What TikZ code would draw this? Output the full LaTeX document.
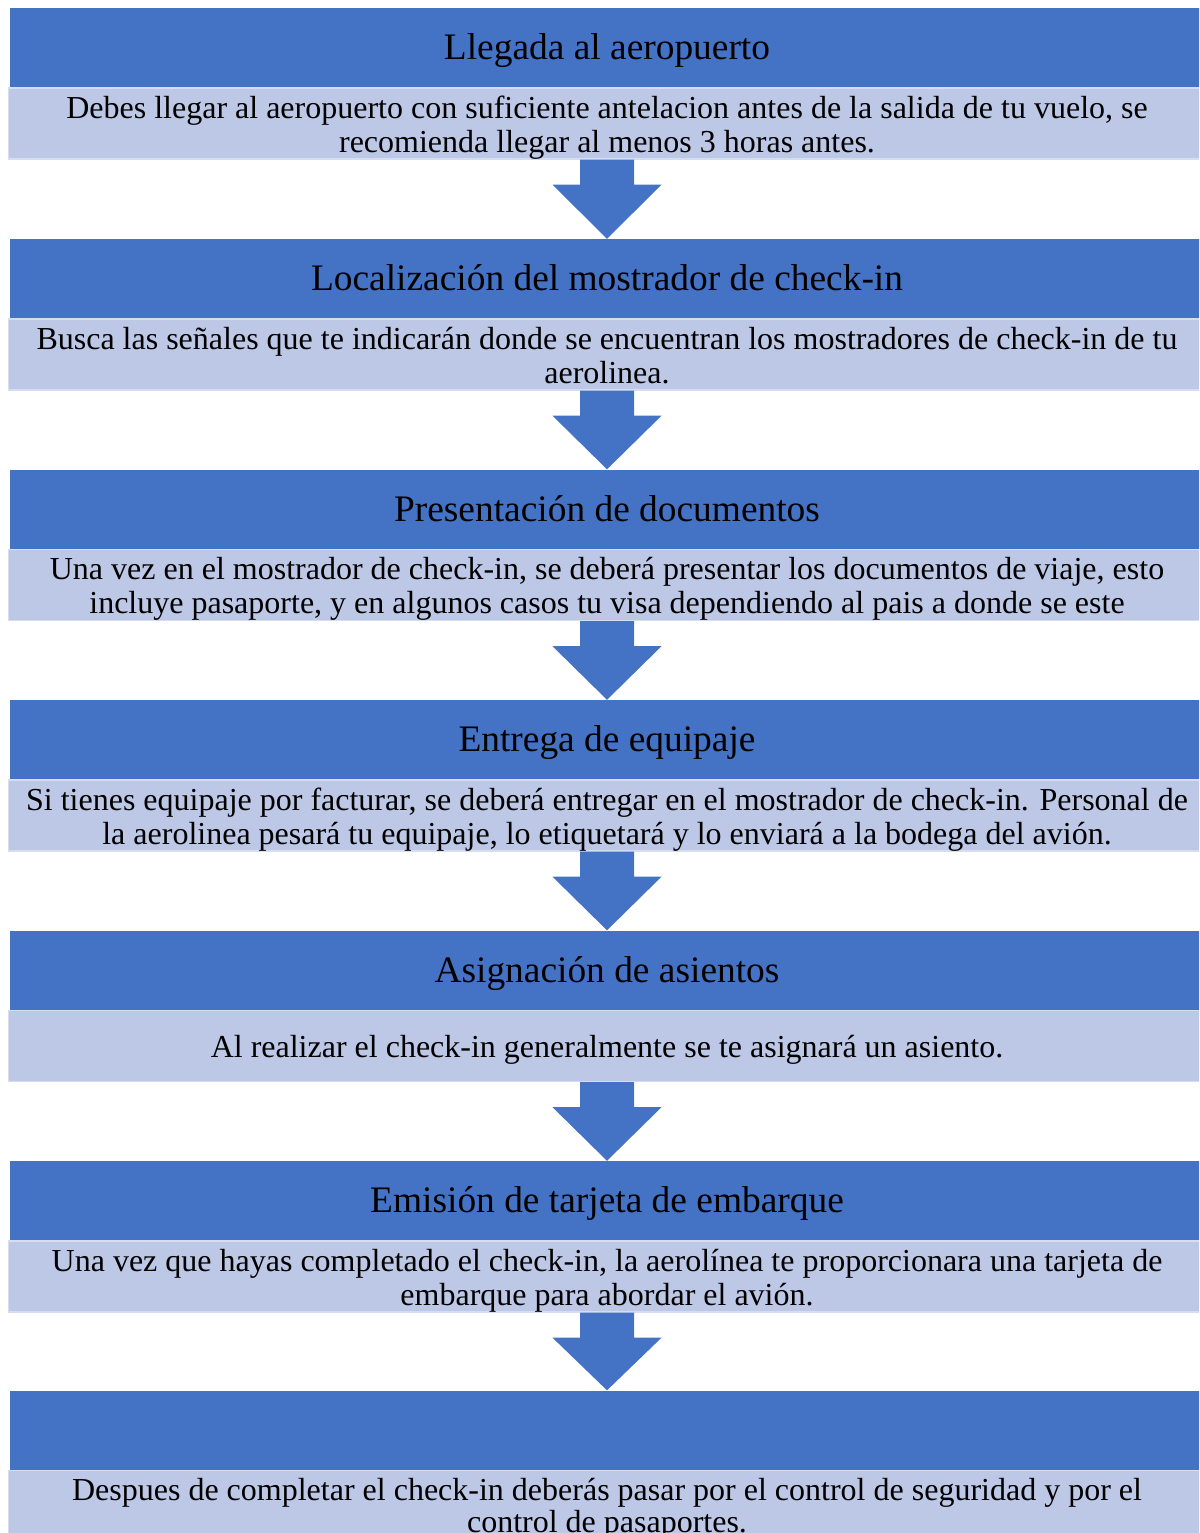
\documentclass[tikz,border=0pt]{standalone}
\usepackage{fontspec}
\setmainfont{Liberation Serif}
\usetikzlibrary{calc}
\definecolor{hdr}{RGB}{68,114,196}
\definecolor{lt}{RGB}{189,200,230}
\definecolor{ltb}{RGB}{214,221,240}
\begin{document}
\begin{tikzpicture}[x=1pt,y=-1pt,
  hdrbox/.style={rectangle,fill=hdr,draw=none,minimum width=1194pt,minimum height=79pt,inner sep=0pt},
  hdrtext/.style={anchor=base,inner sep=0pt,font=\fontsize{37.4}{44}\selectfont,text=black},
  bodybox/.style={rectangle,fill=lt,draw=ltb,line width=1.5pt,minimum width=1197pt,minimum height=71pt,inner sep=0pt},
  bodytext/.style={anchor=base,inner sep=0pt,font=\fontsize{32}{34}\selectfont,text=black},
  flowarrow/.style={fill=hdr,draw=none}]
\useasboundingbox (0,0) rectangle (1199,1533);
\clip (0,0) rectangle (1199,1533);

% step 1
\node[hdrbox] (h1) at (607,47.5) {};
\node[hdrtext] (ht1) at ($(h1.center)+(0,12.3)$) {Llegada al aeropuerto};
\node[bodybox,anchor=north] (b1) at (h1.south) {};
\begin{scope}
\clip (b1.north west) rectangle (b1.south east);
\node[bodytext] (t1a) at ($(b1.center)+(0,-5.2)$) {Debes llegar al aeropuerto con suficiente antelacion antes de la salida de tu vuelo, se};
\node[bodytext] (t1b) at ($(b1.center)+(0,28.8)$) {recomienda llegar al menos 3 horas antes.};
\end{scope}

% step 2
\node[hdrbox] (h2) at (607,278.5) {};
\node[hdrtext] (ht2) at ($(h2.center)+(0,12.3)$) {Localización del mostrador de check-in};
\node[bodybox,anchor=north] (b2) at (h2.south) {};
\begin{scope}
\clip (b2.north west) rectangle (b2.south east);
\node[bodytext] (t2a) at ($(b2.center)+(0,-5.2)$) {Busca las señales que te indicarán donde se encuentran los mostradores de check-in de tu};
\node[bodytext] (t2b) at ($(b2.center)+(0,28.8)$) {aerolinea.};
\end{scope}

% step 3
\node[hdrbox] (h3) at (607,509) {};
\node[hdrtext] (ht3) at ($(h3.center)+(0,12.3)$) {Presentación de documentos};
\node[bodybox,anchor=north] (b3) at (h3.south) {};
\begin{scope}
\clip (b3.north west) rectangle (b3.south east);
\node[bodytext] (t3a) at ($(b3.center)+(0,-5.2)$) {Una vez en el mostrador de check-in, se deberá presentar los documentos de viaje, esto};
\node[bodytext] (t3b) at ($(b3.center)+(0,28.8)$) {incluye pasaporte, y en algunos casos tu visa dependiendo al pais a donde se este};
\end{scope}

% step 4
\node[hdrbox] (h4) at (607,739.5) {};
\node[hdrtext] (ht4) at ($(h4.center)+(0,12.3)$) {Entrega de equipaje};
\node[bodybox,anchor=north] (b4) at (h4.south) {};
\begin{scope}
\clip (b4.north west) rectangle (b4.south east);
\node[bodytext] (t4a) at ($(b4.center)+(0,-5.2)$) {Si tienes equipaje por facturar, se deberá entregar en el mostrador de check-in. Personal de};
\node[bodytext] (t4b) at ($(b4.center)+(0,28.8)$) {la aerolinea pesará tu equipaje, lo etiquetará y lo enviará a la bodega del avión.};
\end{scope}

% step 5
\node[hdrbox] (h5) at (607,970) {};
\node[hdrtext] (ht5) at ($(h5.center)+(0,12.3)$) {Asignación de asientos};
\node[bodybox,anchor=north] (b5) at (h5.south) {};
\node[bodytext] (t5a) at ($(b5.center)+(0,11.5)$) {Al realizar el check-in generalmente se te asignará un asiento.};

% step 6
\node[hdrbox] (h6) at (607,1200.5) {};
\node[hdrtext] (ht6) at ($(h6.center)+(0,12.3)$) {Emisión de tarjeta de embarque};
\node[bodybox,anchor=north] (b6) at (h6.south) {};
\begin{scope}
\clip (b6.north west) rectangle (b6.south east);
\node[bodytext] (t6a) at ($(b6.center)+(0,-5.2)$) {Una vez que hayas completado el check-in, la aerolínea te proporcionara una tarjeta de};
\node[bodytext] (t6b) at ($(b6.center)+(0,28.8)$) {embarque para abordar el avión.};
\end{scope}

% step 7
\node[hdrbox] (h7) at (607,1430) {};
\node[bodybox,anchor=north] (b7) at (h7.south) {};
\node[bodytext] (t7a) at ($(b7.center)+(0,-5.2)$) {Despues de completar el check-in deberás pasar por el control de seguridad y por el};
\node[bodytext] (t7b) at ($(b7.center)+(0,26.5)$) {control de pasaportes.};

% arrows
\foreach \a/\b in {b1/h2,b2/h3,b3/h4,b4/h5,b5/h6,b6/h7}{
  \fill[flowarrow] ($(\a.south)+(-27,0)$) -- ($(\a.south)+(27,0)$) -- ($(\a.south)+(27,25)$)
    -- ($(\a.south)+(54.5,25)$) -- (\b.north) -- ($(\a.south)+(-54.5,25)$) -- ($(\a.south)+(-27,25)$) -- cycle;
}
\end{tikzpicture}
\end{document}
